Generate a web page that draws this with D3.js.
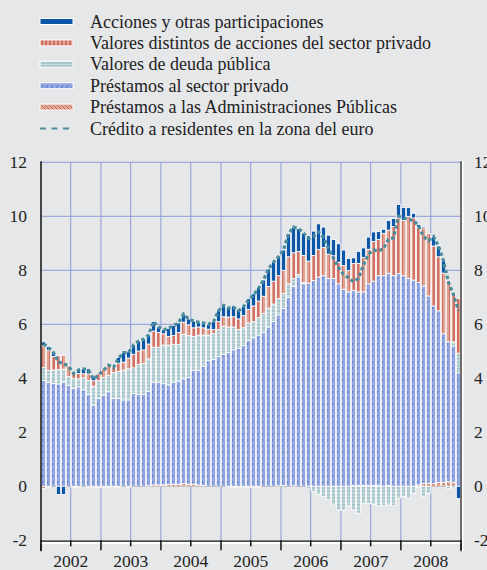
<!DOCTYPE html>
<html>
<head>
<meta charset="utf-8">
<script src="https://cdn.jsdelivr.net/npm/d3@7"></script>
<style>
body{margin:0;background:#e6e7e9;}
svg{display:block;font-family:"Liberation Serif","Times New Roman",serif;}
</style>
</head>
<body>
<div id="chart"></div>
<script>
// monthly data, Jan 2002 - Dec 2008 (84 months), contributions in pp
var startYear = 2002, endYear = 2009;

var prestamosAAPP = [
 -0.08,-0.03,0,0,0,0,-0.05,-0.05,0,-0.05,-0.05,-0.04,
 -0.04,-0.03,-0.02,-0.04,0,-0.03,0,0,0,0.02,0.05,0.05,
 0.05,0.07,0.08,0.08,0.1,0.08,0.08,0.05,0.03,0,0,0,
 0,-0.02,-0.05,-0.05,-0.02,-0.05,-0.05,-0.03,0,0,0,0.02,
 0.03,0,0.02,0,0,0,0,0,0,0,0,0,
 0,0,0.03,0.03,0.03,0.03,0.03,0.04,0,0.03,0,0,
 0,0,0,0.05,0.1,0.12,0.1,0.15,0.15,0.17,0.15,0
];
var prestamosPrivado = [
 3.92,3.84,3.81,3.79,3.86,3.73,3.63,3.68,3.57,3.41,3.01,3.26,
 3.38,3.5,3.26,3.26,3.2,3.2,3.44,3.41,3.4,3.5,3.8,3.8,
 3.75,3.68,3.78,3.82,3.88,3.95,4.22,4.25,4.42,4.65,4.7,4.8,
 4.88,4.95,5.05,5.1,5.22,5.4,5.5,5.6,5.7,5.9,6.1,6.33,
 6.56,7.0,7.38,7.75,7.5,7.52,7.62,7.75,7.8,7.7,7.7,7.5,
 7.3,7.2,7.22,7.17,7.17,7.47,7.57,7.76,7.8,7.86,7.8,7.88,
 7.8,7.7,7.64,7.5,7.32,6.93,6.58,6.35,5.5,5.18,5.05,4.2
];
var deudaPublica = [
 0.48,0.45,0.5,0.54,0.48,0.33,0.37,0.3,0.45,0.5,0.7,0.65,
 0.65,0.6,0.95,1.0,1.1,1.15,0.95,1.1,1.15,1.2,1.3,1.3,
 1.43,1.48,1.4,1.35,1.65,1.55,1.25,1.3,1.15,0.95,0.95,1.0,
 1.05,0.95,0.85,0.7,0.65,0.65,0.6,0.65,0.7,0.7,0.65,0.6,
 0.55,0.5,0.3,0.1,0.05,-0.1,-0.2,-0.3,-0.38,-0.5,-0.69,-0.88,
 -0.9,-0.72,-0.88,-1.0,-0.63,-0.63,-0.67,-0.72,-0.72,-0.69,-0.72,-0.44,
 -0.38,-0.44,-0.26,-0.05,-0.37,-0.26,0,0,0,-0.08,0.15,0.73
];
var valoresDistintos = [
 0.8,0.75,0.5,0.5,0.5,0.4,0.18,0.2,0.15,0.25,0.2,0.25,
 0.31,0.42,0.21,0.3,0.3,0.4,0.5,0.5,0.5,0.55,0.6,0.55,
 0.42,0.32,0.32,0.45,0.45,0.4,0.32,0.3,0.27,0.22,0.15,0.3,
 0.35,0.37,0.38,0.4,0.45,0.5,0.58,0.61,0.64,0.8,0.85,0.85,
 0.86,1.0,0.95,0.85,1.0,0.82,0.93,1.02,1.05,0.9,0.84,0.8,
 0.88,0.79,1.0,1.05,1.28,1.28,1.47,1.34,1.57,1.6,1.82,2.06,
 2.05,2.3,2.3,2.05,2.15,2.31,2.22,2.0,2.25,2.28,1.8,2.02
];
var acciones = [
 0.15,0.14,0.14,-0.3,-0.3,0,0.05,0.18,0.18,0.19,0.11,0,
 0,0,0,0.22,0.35,0.23,0.34,0.37,0.4,0.33,0.35,0.2,
 0.15,0.3,0.37,0.35,0.3,0.22,0.25,0.18,0.18,0.18,0.3,0.4,
 0.42,0.35,0.4,0.35,0.35,0.4,0.45,0.5,0.6,0.65,0.7,0.7,
 0.75,0.85,0.95,0.85,0.83,0.94,0.9,0.95,0.75,0.7,0.6,0.68,
 0.57,0.45,0.21,0.45,0.35,0.45,0.35,0.3,0.15,0.35,0.3,0.5,
 0.48,0.32,0.17,0.1,0.05,0,0.35,0.4,0.45,0,-0.05,-0.45
];
var creditoResidentes = [
 5.27,5.15,4.95,4.6,4.55,4.45,4.18,4.31,4.35,4.3,3.97,4.12,
 4.3,4.49,4.4,4.74,4.95,4.95,5.23,5.38,5.45,5.6,6.1,5.9,
 5.8,5.85,5.95,6.05,6.38,6.2,6.12,6.08,6.05,6.0,6.1,6.5,
 6.7,6.6,6.63,6.5,6.65,6.9,7.08,7.33,7.64,8.05,8.3,8.5,
 8.75,9.35,9.6,9.55,9.38,9.18,9.25,9.42,9.22,8.8,8.45,8.1,
 7.85,7.72,7.58,7.7,8.2,8.6,8.75,8.72,8.8,9.15,9.2,10.0,
 9.95,9.88,9.85,9.65,9.25,9.1,9.25,8.9,8.35,7.55,7.1,6.5
];
var yTicks = [-2,0,2,4,6,8,10,12];
var legendNames = [
 "Acciones y otras participaciones",
 "Valores distintos de acciones del sector privado",
 "Valores de deuda pública",
 "Préstamos al sector privado",
 "Préstamos a las Administraciones Públicas",
 "Crédito a residentes en la zona del euro"
];

function drawChart(){
	var width = 487, height = 570;
	var plotLeft = 41, plotRight = 461, plotTop = 162.3, plotBottom = 540.3;

	var svg = d3.select('#chart').append('svg')
		.attr('width', width)
		.attr('height', height);

	svg.append('rect').attr('width', width).attr('height', height).attr('fill', '#e6e7e9');

	//patterns for the bar fills
	var defs = svg.append('defs');
	function addPattern(id, w, h, bg, path, stroke, sw){
		var p = defs.append('pattern').attr('id', id)
			.attr('patternUnits', 'userSpaceOnUse')
			.attr('width', w).attr('height', h);
		p.append('rect').attr('width', w).attr('height', h).attr('fill', bg);
		p.append('path').attr('d', path).attr('stroke', stroke).attr('stroke-width', sw).attr('fill', 'none');
	}
	addPattern('pPriv', 5, 6, '#93a6df', 'M1,5L3,1', '#3d6cc6', 0.8);
	addPattern('pDeuda', 4, 3.4, '#c2d8db', 'M0,1.7H4', '#7fa9b1', 0.8);
	addPattern('pVal', 4, 4, '#dfa394', 'M2,0V4', '#c6463a', 1.1);
	addPattern('pAAPP', 4, 4, '#e2aa98', 'M0,0L4,4', '#c25a45', 0.8);

	var keys = ['aapp', 'priv', 'deuda', 'val', 'acc'];
	var fills = {acc: '#0b56a6', val: 'url(#pVal)', deuda: 'url(#pDeuda)', priv: 'url(#pPriv)', aapp: 'url(#pAAPP)'};

	var rows = prestamosPrivado.map(function(d, i){
		return {i: i, aapp: prestamosAAPP[i], priv: d, deuda: deudaPublica[i], val: valoresDistintos[i], acc: acciones[i]};
	});

	var x = d3.scaleBand()
		.domain(d3.range(rows.length))
		.range([plotLeft, plotRight])
		.paddingInner(0.14)
		.paddingOuter(0.07);

	var time = d3.scaleTime()
		.domain([new Date(startYear, 0, 1), new Date(endYear, 0, 1)])
		.range([plotLeft, plotRight]);

	var y = d3.scaleLinear()
		.domain([-2, 12])
		.range([plotBottom, plotTop]);

	//grid
	var halfYears = d3.timeMonth.every(6).range(new Date(startYear, 0, 1), new Date(endYear, 0, 2));
	svg.append('g').selectAll('line')
		.data(halfYears.slice(1, -1))
		.enter().append('line')
		.attr('x1', function(d){ return time(d); })
		.attr('x2', function(d){ return time(d); })
		.attr('y1', plotTop).attr('y2', plotBottom)
		.attr('stroke', '#8b9bd8').attr('stroke-width', 1);

	svg.append('g').selectAll('line')
		.data(yTicks.filter(function(d){ return d > 0; }))
		.enter().append('line')
		.attr('x1', plotLeft).attr('x2', plotRight)
		.attr('y1', function(d){ return y(d); })
		.attr('y2', function(d){ return y(d); })
		.attr('stroke', '#8b9bd8').attr('stroke-width', 1);

	//zero line
	svg.append('line')
		.attr('x1', plotLeft).attr('x2', plotRight)
		.attr('y1', y(0)).attr('y2', y(0))
		.attr('stroke', '#111').attr('stroke-width', 1.2);

	//stacked bars
	var series = d3.stack().keys(keys).offset(d3.stackOffsetDiverging)(rows);

	svg.append('g').selectAll('g')
		.data(series)
		.enter().append('g')
		.attr('fill', function(d){ return fills[d.key]; })
		.selectAll('rect')
		.data(function(d){ return d.filter(function(s){ return Math.abs(s[1] - s[0]) > 0.001; }); })
		.enter().append('rect')
		.attr('x', function(d){ return x(d.data.i); })
		.attr('width', x.bandwidth())
		.attr('y', function(d){ return y(Math.max(d[0], d[1])); })
		.attr('height', function(d){ return Math.abs(y(d[0]) - y(d[1])); })
		.attr('stroke', '#fff')
		.attr('stroke-width', 0.8);

	//credit line
	var lineGenerator = d3.line()
		.x(function(d, i){ return x(i) + x.bandwidth() / 2; })
		.y(function(d){ return y(d); });

	svg.append('path')
		.attr('d', lineGenerator(creditoResidentes))
		.attr('fill', 'none')
		.attr('stroke', '#4a8c9b')
		.attr('stroke-width', 3.2)
		.attr('stroke-dasharray', '3.5,2.5');

	//axes
	svg.append('line')
		.attr('x1', plotLeft).attr('x2', plotLeft)
		.attr('y1', plotTop - 1).attr('y2', plotBottom + 11)
		.attr('stroke', '#111').attr('stroke-width', 1.5);
	svg.append('line')
		.attr('x1', plotRight + 1.8).attr('x2', plotRight + 1.8)
		.attr('y1', plotTop - 1).attr('y2', plotBottom + 11)
		.attr('stroke', '#fff').attr('stroke-width', 1.5);
	svg.append('line')
		.attr('x1', plotRight).attr('x2', plotRight)
		.attr('y1', plotTop - 1).attr('y2', plotBottom + 11)
		.attr('stroke', '#444').attr('stroke-width', 1.5);

	var xAxis = svg.append('g');
	xAxis.append('line')
		.attr('x1', plotLeft).attr('x2', plotRight)
		.attr('y1', plotBottom + 2.5).attr('y2', plotBottom + 2.5)
		.attr('stroke', '#fff').attr('stroke-width', 2.5);
	xAxis.append('line')
		.attr('x1', plotLeft).attr('x2', plotRight)
		.attr('y1', plotBottom + 0.8).attr('y2', plotBottom + 0.8)
		.attr('stroke', '#111').attr('stroke-width', 1.3);
	xAxis.selectAll('.tick')
		.data(halfYears)
		.enter().append('line')
		.attr('x1', function(d){ return time(d); })
		.attr('x2', function(d){ return time(d); })
		.attr('y1', plotBottom)
		.attr('y2', function(d){ return plotBottom + (d.getMonth() === 0 ? 10 : 6); })
		.attr('stroke', '#111').attr('stroke-width', 1.5);

	var years = d3.range(startYear, endYear);
	xAxis.selectAll('text')
		.data(years)
		.enter().append('text')
		.attr('x', function(d){ return time(new Date(d, 6, 1)); })
		.attr('y', 566.5)
		.attr('text-anchor', 'middle')
		.attr('font-size', 17.5)
		.attr('fill', '#222')
		.text(function(d){ return d; });

	svg.append('g').selectAll('text')
		.data(yTicks)
		.enter().append('text')
		.attr('x', 27)
		.attr('y', function(d){ return y(d); })
		.attr('dy', '0.35em')
		.attr('text-anchor', 'end')
		.attr('font-size', 17.5)
		.attr('fill', '#222')
		.text(function(d){ return d; });

	svg.append('g').selectAll('text')
		.data(yTicks)
		.enter().append('text')
		.attr('x', 474)
		.attr('y', function(d){ return y(d); })
		.attr('dy', '0.35em')
		.attr('text-anchor', 'start')
		.attr('font-size', 17.5)
		.attr('fill', '#222')
		.text(function(d){ return d; });

	//legend
	var legendFills = ['#0b56a6', 'url(#pVal)', 'url(#pDeuda)', 'url(#pPriv)', 'url(#pAAPP)'];
	var legend = svg.append('g');
	legendNames.forEach(function(name, k){
		var cy = 21.5 + k * 21.4;
		if(k < 5){
			legend.append('rect')
				.attr('x', 40).attr('y', cy - 3)
				.attr('width', 33).attr('height', 6)
				.attr('fill', legendFills[k])
				.attr('stroke', '#fff').attr('stroke-width', 1);
		} else {
			legend.append('line')
				.attr('x1', 40).attr('x2', 73)
				.attr('y1', cy).attr('y2', cy)
				.attr('stroke', '#4a8c9b').attr('stroke-width', 2)
				.attr('stroke-dasharray', '6,5.5');
		}
		legend.append('text')
			.attr('x', 90).attr('y', cy + 6)
			.attr('font-size', 18)
			.attr('fill', '#222')
			.text(name);
	});
}

drawChart();
</script>
</body>
</html>
